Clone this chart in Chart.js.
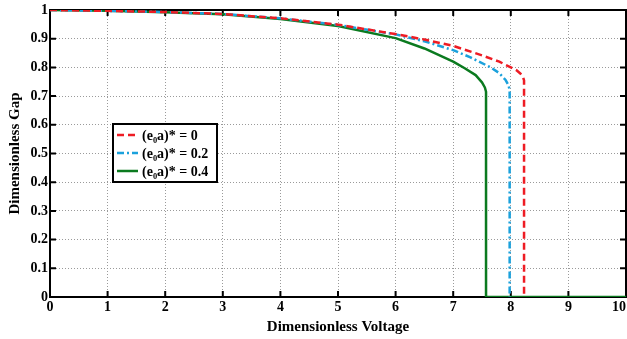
<!DOCTYPE html>
<html><head><meta charset="utf-8">
<script src="https://cdn.jsdelivr.net/npm/chart.js@4/dist/chart.umd.min.js"></script>
<style>html,body{margin:0;padding:0;background:#fff;}#wrap{width:627px;height:339px;}</style>
</head><body><div id="wrap"><canvas id="c" width="627" height="339"></canvas></div>
<script>
const xTicks = [0,1,2,3,4,5,6,7,8,9,10];
const yTicks = [0,0.1,0.2,0.3,0.4,0.5,0.6,0.7,0.8,0.9,1];
const seriesLabels = ['(e\u2080a)* = 0', '(e\u2080a)* = 0.2', '(e\u2080a)* = 0.4'];
const redX = [0,1,2,3,4,5,6,6.5,7,7.5,7.8,8,8.1,8.17,8.21,8.23,8.23];
const redY = [1,0.997,0.993,0.986,0.971,0.949,0.916,0.897,0.875,0.842,0.82,0.80,0.79,0.778,0.768,0.755,0];
const blueX = [0,1,2,3,4,5,6,6.5,7,7.3,7.65,7.8,7.91,7.96,7.98,7.98];
const blueY = [1,0.997,0.993,0.986,0.971,0.948,0.915,0.891,0.86,0.835,0.80,0.78,0.756,0.738,0.72,0];
const greenX = [0,1,2,3,4,5,6,6.5,7,7.2,7.39,7.5,7.55,7.57,7.57,8,9,10];
const greenY = [1,0.997,0.992,0.985,0.969,0.944,0.902,0.866,0.82,0.797,0.773,0.748,0.73,0.715,0,0,0,0];

const pts = (xs, ys) => xs.map((x,i)=>({x, y: ys[i]}));
const colors = ['#ee1c24', '#1ba1dc', '#0b7a1f'];
const dashes = [[7,4], [7,3,2,3], []];
const FONT = '"Liberation Serif", "Times New Roman", serif';

const framePlugin = {
  id: 'frame',
  beforeDatasetsDraw(chart) {
    const {ctx, chartArea: a, scales} = chart;
    ctx.save();
    ctx.strokeStyle = '#000';
    ctx.lineWidth = 2;
    ctx.beginPath();
    xTicks.forEach(v => {
      const px = scales.x.getPixelForValue(v);
      ctx.moveTo(px, a.bottom); ctx.lineTo(px, a.bottom - 6);
      ctx.moveTo(px, a.top); ctx.lineTo(px, a.top + 6);
    });
    yTicks.forEach(v => {
      const py = scales.y.getPixelForValue(v);
      ctx.moveTo(a.left, py); ctx.lineTo(a.left + 6, py);
      ctx.moveTo(a.right, py); ctx.lineTo(a.right - 6, py);
    });
    ctx.stroke();
    ctx.strokeRect(a.left, a.top, a.right - a.left, a.bottom - a.top);
    ctx.restore();
  },
  afterDraw(chart) {
    const {ctx, chartArea: a} = chart;
    const bx = a.left + 63, by = a.top + 114, bw = 104, bh = 58;
    ctx.save();
    ctx.fillStyle = '#fff';
    ctx.fillRect(bx, by, bw, bh);
    ctx.strokeStyle = '#000';
    ctx.lineWidth = 2;
    ctx.strokeRect(bx, by, bw, bh);
    ctx.font = 'bold 14px ' + FONT;
    ctx.textBaseline = 'middle';
    chart.data.datasets.forEach((ds, i) => {
      const yy = by + 11 + i * 18;
      ctx.strokeStyle = ds.borderColor;
      ctx.lineWidth = 2.5;
      ctx.setLineDash(ds.borderDash || []);
      ctx.beginPath(); ctx.moveTo(bx + 4, yy); ctx.lineTo(bx + 25, yy); ctx.stroke();
      ctx.setLineDash([]);
      ctx.fillStyle = '#000';
      ctx.fillText(ds.label, bx + 29, yy + 1);
    });
    ctx.restore();
  }
};

new Chart(document.getElementById('c'), {
  type: 'scatter',
  data: {
    datasets: [
      {label: seriesLabels[0], data: pts(redX, redY)},
      {label: seriesLabels[1], data: pts(blueX, blueY)},
      {label: seriesLabels[2], data: pts(greenX, greenY)}
    ].map((d, i) => Object.assign(d, {
      showLine: true, borderColor: colors[i], backgroundColor: colors[i],
      borderDash: dashes[i], borderWidth: 2.5, pointRadius: 0, tension: 0,
      borderJoinStyle: 'round'
    }))
  },
  options: {
    responsive: false, animation: false, devicePixelRatio: 1,
    layout: {padding: {top: 10, right: 1, left: 0, bottom: 0}},
    plugins: {legend: {display: false}, tooltip: {enabled: false}},
    scales: {
      x: {
        type: 'linear', min: 0, max: 10,
        afterFit(s) { s.height = 42; s.paddingLeft = 0; s.paddingRight = 0; },
        afterBuildTicks(s) { s.ticks = xTicks.map(v => ({value: v})); },
        ticks: {color: '#000', font: {family: FONT, weight: 'bold', size: 14}, padding: 2, maxRotation: 0,
                callback: v => v === xTicks[xTicks.length - 1] ? String(v) + '\u2002\u2002' : String(v)},
        grid: {color: '#9a9a9a', lineWidth: 1, drawTicks: false},
        border: {display: false, dash: [1, 2]},
        title: {display: true, text: 'Dimensionless Voltage', color: '#000',
                font: {family: FONT, weight: 'bold', size: 15, lineHeight: 1.6}, padding: 0}
      },
      y: {
        type: 'linear', min: 0, max: 1,
        afterFit(s) { s.width = 50; s.paddingTop = 0; s.paddingBottom = 0; },
        afterBuildTicks(s) { s.ticks = yTicks.map(v => ({value: v})); },
        ticks: {color: '#000', font: {family: FONT, weight: 'bold', size: 14}, padding: 2,
                callback: v => String(Math.round(v * 10) / 10)},
        grid: {color: '#9a9a9a', lineWidth: 1, drawTicks: false},
        border: {display: false, dash: [1, 2]},
        title: {display: true, text: 'Dimensionless Gap', color: '#000',
                font: {family: FONT, weight: 'bold', size: 15, lineHeight: 2.0}, padding: 0}
      }
    }
  },
  plugins: [framePlugin]
});
</script></body></html>
